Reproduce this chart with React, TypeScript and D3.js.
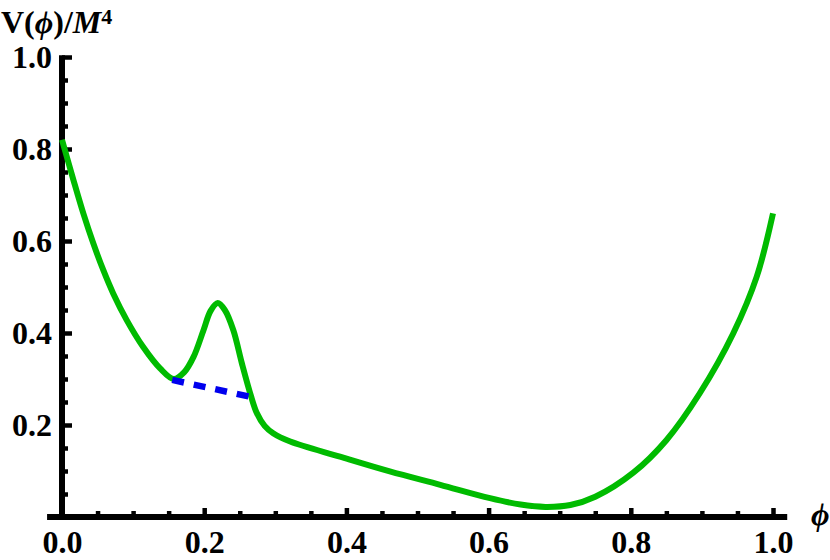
import { useRef, useEffect } from "react";
import {
  select,
  scaleLinear,
  axisBottom,
  axisLeft,
  line,
  curveCatmullRom,
  range,
} from "d3";

// potential curve
const phiValues = [
  0, 0.016, 0.03, 0.044, 0.058, 0.072, 0.091, 0.114, 0.138, 0.157, 0.172,
  0.185, 0.199, 0.209, 0.219, 0.229, 0.241, 0.253, 0.266, 0.274, 0.285, 0.297,
  0.321, 0.391, 0.461, 0.532, 0.602, 0.645, 0.68, 0.715, 0.75, 0.804, 0.85,
  0.897, 0.944, 0.977, 1.0,
];
const potentialValues = [
  0.82, 0.733, 0.66, 0.595, 0.537, 0.486, 0.428, 0.37, 0.323, 0.3, 0.315,
  0.348, 0.406, 0.448, 0.465, 0.45, 0.406, 0.334, 0.262, 0.226, 0.198, 0.182,
  0.164, 0.131, 0.099, 0.07, 0.041, 0.027, 0.022, 0.026, 0.044, 0.097, 0.167,
  0.269, 0.399, 0.522, 0.66,
];

// dashed segment under the bump
const barrierPhi = [0.155, 0.266];
const barrierPotential = [0.298, 0.261];

const xMajorTicks = [0, 0.2, 0.4, 0.6, 0.8, 1.0];
const yMajorTicks = [0.2, 0.4, 0.6, 0.8, 1.0];

const WIDTH = 830;
const HEIGHT = 560;

export default function App() {
  const svgRef = useRef<SVGSVGElement>(null);

  useEffect(() => {
    const svg = select(svgRef.current);
    svg.selectAll("*").remove();

    const x = scaleLinear().domain([0, 1]).range([62, 773]);
    const y = scaleLinear().domain([0, 1]).range([517, 57]);

    const font = "'Liberation Serif', 'Times New Roman', serif";
    const isMajor = (v: number) => Math.abs(v * 5 - Math.round(v * 5)) < 1e-6;
    const minorX = range(0, 1.0001, 0.05).filter((v) => !isMajor(v));
    const minorY = range(0.05, 1.0001, 0.05).filter((v) => !isMajor(v));

    // x axis: ticks point up into the plot, labels below
    svg
      .append("g")
      .attr("transform", `translate(0,${y(0)})`)
      .call(
        axisBottom(x)
          .tickValues(minorX)
          .tickSize(-6)
          .tickSizeOuter(0)
          .tickFormat(() => "")
      );
    svg
      .append("g")
      .attr("transform", `translate(0,${y(0)})`)
      .call(
        axisBottom(x)
          .tickValues(xMajorTicks)
          .tickSize(-9)
          .tickSizeOuter(0)
          .tickPadding(13)
          .tickFormat((d) => (d as number).toFixed(1))
      );

    // y axis: ticks point right into the plot, labels on the left
    svg
      .append("g")
      .attr("transform", `translate(${x(0)},0)`)
      .call(
        axisLeft(y)
          .tickValues(minorY)
          .tickSize(-6)
          .tickSizeOuter(0)
          .tickFormat(() => "")
      );
    svg
      .append("g")
      .attr("transform", `translate(${x(0)},0)`)
      .call(
        axisLeft(y)
          .tickValues(yMajorTicks)
          .tickSize(-10)
          .tickSizeOuter(0)
          .tickPadding(10)
          .tickFormat((d) => (d as number).toFixed(1))
      );

    svg.selectAll(".domain").remove();
    svg
      .selectAll(".tick line")
      .attr("stroke", "#000")
      .attr("stroke-width", 4.5);
    svg
      .selectAll(".tick text")
      .attr("fill", "#000")
      .style("font-family", font)
      .style("font-weight", "bold")
      .style("font-size", "32px");

    // the heavy axis lines
    svg
      .append("line")
      .attr("x1", x(-0.021))
      .attr("x2", x(1.02))
      .attr("y1", y(0))
      .attr("y2", y(0))
      .attr("stroke", "#000")
      .attr("stroke-width", 6);
    svg
      .append("line")
      .attr("x1", x(0))
      .attr("x2", x(0))
      .attr("y1", y(1.004))
      .attr("y2", y(0))
      .attr("stroke", "#000")
      .attr("stroke-width", 6);

    const curve = line<number>()
      .x((d) => x(d))
      .y((_, i) => y(potentialValues[i]))
      .curve(curveCatmullRom.alpha(0.5));

    svg
      .append("path")
      .attr("d", curve(phiValues))
      .attr("fill", "none")
      .attr("stroke", "#00bb00")
      .attr("stroke-width", 6);

    const dashed = line<number>()
      .x((d) => x(d))
      .y((_, i) => y(barrierPotential[i]));

    svg
      .append("path")
      .attr("d", dashed(barrierPhi))
      .attr("fill", "none")
      .attr("stroke", "#0000ee")
      .attr("stroke-width", 6.5)
      .attr("stroke-dasharray", "12,10");

    // axis titles
    const title = svg
      .append("text")
      .attr("x", 1)
      .attr("y", 33)
      .attr("fill", "#000")
      .style("font-family", font)
      .style("font-weight", "bold")
      .style("font-size", "32px");
    title.append("tspan").text("V(");
    title.append("tspan").style("font-style", "italic").text("ϕ");
    title.append("tspan").text(")/");
    title.append("tspan").style("font-style", "italic").text("M");
    title
      .append("tspan")
      .attr("dy", -9)
      .style("font-size", "22px")
      .text("4");

    svg
      .append("text")
      .attr("x", 811)
      .attr("y", 525)
      .attr("fill", "#000")
      .style("font-family", font)
      .style("font-style", "italic")
      .style("font-weight", "bold")
      .style("font-size", "32px")
      .text("ϕ");
  }, []);

  return (
    <svg
      ref={svgRef}
      width={WIDTH}
      height={HEIGHT}
      style={{ position: "absolute", left: 0, top: 0, background: "#fff" }}
    />
  );
}
